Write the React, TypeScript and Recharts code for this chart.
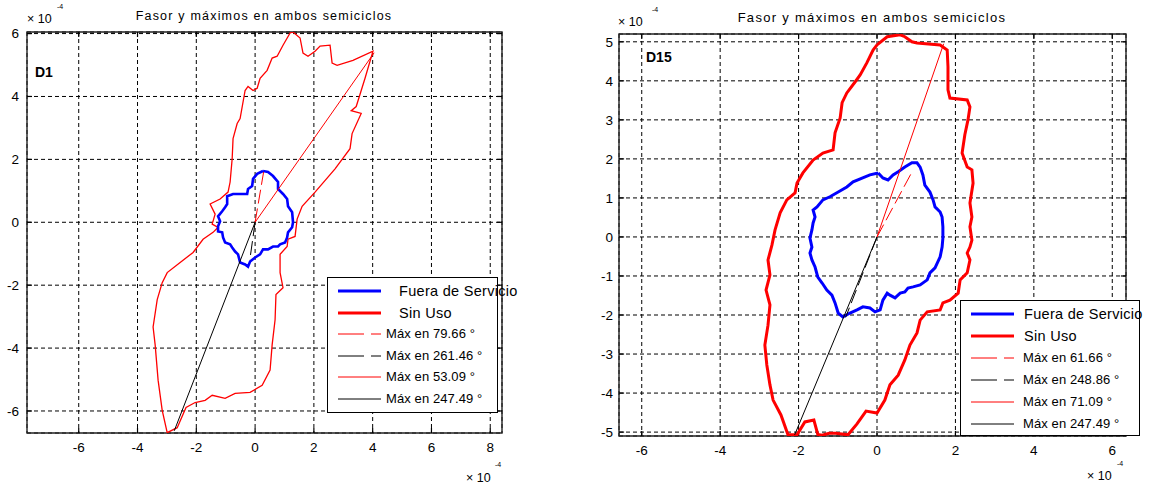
import {
  ScatterChart,
  Scatter,
  XAxis,
  YAxis,
  CartesianGrid,
  ReferenceArea,
  ReferenceLine,
  Legend,
} from "recharts";

// all values are x 10^-4
const d1XTicks = [-6, -4, -2, 0, 2, 4, 6, 8];
const d1YTicks = [-6, -4, -2, 0, 2, 4, 6];
const d15XTicks = [-6, -4, -2, 0, 2, 4, 6];
const d15YTicks = [-5, -4, -3, -2, -1, 0, 1, 2, 3, 4, 5];

const d1XDomain = [-7.76, 8.4];
const d1YDomain = [-6.7, 6.05];
const d15XDomain = [-6.58, 6.35];
const d15YDomain = [-5.1, 5.2];

// D1 - Sin Uso
const d1SinUsoX = [
  1.29, 1.53, 1.63, 1.8, 2.04, 2.21, 2.55, 2.62, 2.79, 3.33, 4.01, 3.74, 3.44, 3.27, 3.61, 3.3, 3.23, 2.72,
  2.04, 1.6, 1.43, 1.36, 1.12, 1.09, 0.85, 0.85, 0.95, 0.71, 0.68, 0.58, 0.51, 0.24, -0.17, -0.68, -1.02,
  -1.46, -1.7, -2.04, -2.35, -2.65, -2.99, -3.16, -3.3, -3.4, -3.47, -3.33, -3.16, -2.99, -2.55, -2.11,
  -1.77, -1.43, -1.26, -1.46, -1.36, -1.53, -1.19, -0.92, -0.85, -0.78, -0.75, -0.61, -0.51, -0.34, -0.24,
  -0.07, 0.07, 0.17, 0.41, 0.58, 0.75, 0.95, 1.19,
];
const d1SinUsoY = [
  6.05, 5.86, 5.38, 5.28, 5.44, 5.6, 5.63, 5.06, 4.99, 5.15, 5.44, 4.58, 3.68, 3.55, 3.46, 2.82, 2.34, 1.7,
  0.96, 0.51, 0.1, -0.45, -0.54, -0.77, -1.02, -1.6, -2.08, -2.3, -3.1, -3.9, -4.7, -5.18, -5.41, -5.44,
  -5.6, -5.5, -5.66, -5.73, -5.89, -6.53, -6.69, -5.98, -5.02, -3.9, -3.33, -2.46, -1.92, -1.6, -1.28,
  -0.96, -0.54, -0.32, -0.16, -0.06, 0.26, 0.58, 0.74, 0.96, 1.28, 2.02, 2.66, 3.14, 3.3, 4.19, 4.32, 4.19,
  4.26, 4.58, 4.83, 5.22, 5.28, 5.63, 6.02,
];

// D1 - Fuera de Servicio
const d1FueraX = [
  0.27, 0.44, 0.61, 0.78, 0.78, 0.95, 1.09, 1.12, 1.26, 1.29, 1.26, 1.12, 1.09, 1.02, 0.85, 0.78, 0.61,
  0.44, 0.27, 0.17, 0.0, -0.17, -0.24, -0.34, -0.51, -0.58, -0.68, -0.78, -0.85, -1.02, -1.09, -1.12,
  -1.26, -1.26, -1.19, -1.26, -1.12, -1.02, -0.95, -0.95, -0.75, -0.27, -0.24, -0.1, -0.07, 0.07,
];
const d1FueraY = [
  1.63, 1.6, 1.47, 1.28, 1.06, 0.9, 0.74, 0.51, 0.32, 0.0, -0.16, -0.32, -0.48, -0.64, -0.7, -0.77, -0.77,
  -0.86, -0.86, -1.02, -1.12, -1.25, -1.41, -1.34, -1.28, -1.02, -0.93, -0.8, -0.7, -0.64, -0.48, -0.32,
  -0.29, -0.13, 0.03, 0.19, 0.35, 0.48, 0.58, 0.83, 0.9, 0.9, 1.06, 1.15, 1.38, 1.54,
];

// D1 - máximos (tips of the rays from the origin)
const d1MaxX = [0.29, -0.18, 4.05, -2.75];
const d1MaxY = [1.6, -1.2, 5.39, -6.63];
const d1MaxLabels = ["Máx en 79.66 °", "Máx en 261.46 °", "Máx en 53.09 °", "Máx en 247.49 °"];

// D15 - Sin Uso
const d15SinUsoX = [
  0.0, 0.26, 0.59, 0.71, 0.89, 1.02, 1.61, 1.79, 1.81, 1.81, 1.86, 2.3, 2.37, 2.32, 2.24, 2.17, 2.3, 2.42,
  2.45, 2.37, 2.42, 2.37, 2.42, 2.37, 2.3, 2.37, 2.3, 2.12, 2.07, 1.86, 1.68, 1.61, 1.28, 1.1, 1.02, 0.84,
  0.71, 0.54, 0.33, 0.2, 0.0, -0.28, -0.51, -0.74, -1.05, -1.22, -1.4, -1.51, -1.61, -1.84, -2.04, -2.27,
  -2.45, -2.65, -2.73, -2.81, -2.86, -2.78, -2.73, -2.83, -2.73, -2.78, -2.68, -2.6, -2.47, -2.3, -2.09,
  -2.04, -1.89, -1.63, -1.38, -1.12, -1.07, -0.94, -0.89, -0.77, -0.56, -0.43, -0.26, -0.1,
];
const d15SinUsoY = [
  4.92, 5.13, 5.18, 5.13, 5.0, 4.97, 4.92, 4.79, 4.36, 3.77, 3.56, 3.51, 3.33, 3.0, 2.62, 2.15, 1.79, 1.72,
  1.38, 0.87, 0.51, 0.26, -0.08, -0.26, -0.41, -0.59, -0.92, -1.1, -1.44, -1.62, -1.69, -1.87, -1.92,
  -2.13, -2.46, -2.77, -3.15, -3.54, -3.79, -4.18, -4.51, -4.46, -4.79, -5.07, -5.03, -5.03, -5.08, -5.06,
  -4.69, -4.74, -5.07, -5.07, -4.56, -4.18, -3.79, -3.28, -2.77, -2.26, -1.74, -1.36, -0.97, -0.59, -0.21,
  0.18, 0.62, 0.95, 1.13, 1.38, 1.64, 1.97, 2.15, 2.23, 2.67, 3.05, 3.44, 3.69, 3.97, 4.15, 4.46, 4.79,
];

// D15 - Fuera de Servicio
const d15FueraX = [
  0.03, 0.15, 0.28, 0.41, 0.54, 0.71, 0.89, 1.02, 1.1, 1.17, 1.22, 1.35, 1.43, 1.48, 1.61, 1.66, 1.68,
  1.68, 1.66, 1.61, 1.48, 1.35, 1.28, 1.1, 0.92, 0.79, 0.71, 0.59, 0.46, 0.33, 0.26, 0.15, 0.08, -0.05,
  -0.18, -0.36, -0.51, -0.69, -0.87, -0.99, -1.07, -1.15, -1.28, -1.4, -1.51, -1.58, -1.66, -1.71, -1.66,
  -1.71, -1.66, -1.63, -1.58, -1.63, -1.53, -1.38, -1.2, -0.99, -0.77, -0.61, -0.38, -0.18,
];
const d15FueraY = [
  1.64, 1.51, 1.46, 1.59, 1.67, 1.79, 1.9, 1.9, 1.79, 1.59, 1.33, 1.15, 0.95, 0.77, 0.64, 0.51, 0.26, -0.03,
  -0.26, -0.51, -0.79, -0.92, -1.1, -1.23, -1.28, -1.31, -1.41, -1.44, -1.56, -1.49, -1.44, -1.62, -1.87,
  -1.92, -1.82, -1.79, -1.87, -1.95, -2.05, -1.95, -1.69, -1.49, -1.36, -1.18, -1.03, -0.77, -0.59, -0.41,
  -0.26, -0.03, 0.18, 0.36, 0.51, 0.69, 0.77, 0.95, 1.03, 1.15, 1.28, 1.41, 1.51, 1.59,
];

// D15 - máximos
const d15MaxX = [0.9, -0.8, 1.7, -2.1];
const d15MaxY = [1.68, -2.06, 4.95, -5.07];
const d15MaxLabels = ["Máx en 61.66 °", "Máx en 248.86 °", "Máx en 71.09 °", "Máx en 247.49 °"];

const seriesNames = ["Fuera de Servicio", "Sin Uso"];
const title = "Fasor y máximos en ambos semiciclos";

const FONT = '"Liberation Sans", Arial, sans-serif';

type Pt = { x: number; y: number };
const loop = (xs: number[], ys: number[]): Pt[] => {
  const pts = xs.map((x, i) => ({ x, y: ys[i] }));
  return [...pts, pts[0]];
};
const ray = (x: number, y: number): Pt[] => [
  { x: 0, y: 0 },
  { x, y },
];

type Style = { stroke: string; width: number; dash?: string };

const noDot = () => <g />;

function LegendBox({ rows, boxW, boxH, rowTop, rowGap, textLeftBig, textLeftSmall }: any) {
  return (
    <div
      style={{
        position: "relative",
        width: boxW,
        height: boxH,
        border: "1px solid #000",
        background: "#fff",
        boxSizing: "border-box",
        fontFamily: FONT,
      }}
    >
      {rows.map((r: any, i: number) => (
        <div key={i} style={{ position: "absolute", left: 0, top: rowTop + i * rowGap - 10, height: 20, width: boxW }}>
          <svg width={60} height={20} style={{ position: "absolute", left: 0, top: 0 }}>
            <line
              x1={10}
              x2={53}
              y1={10}
              y2={10}
              stroke={r.stroke}
              strokeWidth={r.width}
              strokeDasharray={r.dash ? "26 7" : undefined}
            />
          </svg>
          <span
            style={{
              position: "absolute",
              left: i < 2 ? textLeftBig : textLeftSmall,
              top: 0,
              lineHeight: "20px",
              fontSize: i < 2 ? 14.5 : 13,
              letterSpacing: i < 2 ? 0.3 : 0.1,
              whiteSpace: "nowrap",
              color: "#000",
            }}
          >
            {r.label}
          </span>
        </div>
      ))}
    </div>
  );
}

function Panel(props: any) {
  const {
    left, width, height, margin, xDomain, yDomain, xTicks, yTicks,
    curves, yTickGap, legend, tickLenX, tickLenY,
  } = props;
  const [x0, x1] = xDomain;
  const [y0, y1] = yDomain;
  return (
    <div style={{ position: "absolute", left, top: 0, width, height }}>
      <ScatterChart width={width} height={height} margin={margin} style={{ fontFamily: FONT }}>
        <CartesianGrid stroke="#000" strokeDasharray="4 3" strokeWidth={1} />
        <XAxis
          type="number"
          dataKey="x"
          domain={xDomain}
          ticks={xTicks}
          allowDataOverflow
          axisLine={false}
          tickLine={false}
          tickSize={4}
          tickMargin={5}
          height={30}
          tick={{ fill: "#000", fontSize: 13.5 }}
        />
        <YAxis
          type="number"
          dataKey="y"
          domain={yDomain}
          ticks={yTicks}
          allowDataOverflow
          axisLine={false}
          tickLine={false}
          tickSize={yTickGap}
          tickMargin={3}
          width={20}
          tick={{ fill: "#000", fontSize: 13.5 }}
        />
        {xTicks.map((t: number) => (
          <ReferenceLine key={`xb${t}`} segment={[{ x: t, y: y0 }, { x: t, y: y0 + tickLenY }]} stroke="#000" strokeWidth={1.2} />
        ))}
        {xTicks.map((t: number) => (
          <ReferenceLine key={`xt${t}`} segment={[{ x: t, y: y1 }, { x: t, y: y1 - tickLenY }]} stroke="#000" strokeWidth={1.2} />
        ))}
        {yTicks.map((t: number) => (
          <ReferenceLine key={`yl${t}`} segment={[{ x: x0, y: t }, { x: x0 + tickLenX, y: t }]} stroke="#000" strokeWidth={1.2} />
        ))}
        {yTicks.map((t: number) => (
          <ReferenceLine key={`yr${t}`} segment={[{ x: x1, y: t }, { x: x1 - tickLenX, y: t }]} stroke="#000" strokeWidth={1.2} />
        ))}
        {curves.map((c: { data: Pt[]; style: Style }, i: number) => (
          <Scatter
            key={i}
            data={c.data}
            line={{ stroke: c.style.stroke, strokeWidth: c.style.width, strokeDasharray: c.style.dash }}
            shape={noDot}
            legendType="none"
            isAnimationActive={false}
          />
        ))}
        <ReferenceArea
          x1={x0}
          x2={x1}
          y1={y0}
          y2={y1}
          fill="none"
          fillOpacity={0}
          stroke="#222"
          strokeWidth={1.4}
          ifOverflow="visible"
        />
        <Legend
          layout="vertical"
          align="center"
          verticalAlign="middle"
          wrapperStyle={{ left: legend.left, top: legend.top, width: legend.boxW, height: legend.boxH }}
          content={() => <LegendBox {...legend} />}
        />
      </ScatterChart>
    </div>
  );
}

const sinUsoD1: Style = { stroke: "#ff0000", width: 1.3 };
const fueraD1: Style = { stroke: "#0000ff", width: 2.6 };
const sinUsoD15: Style = { stroke: "#ff0000", width: 3 };
const fueraD15: Style = { stroke: "#0000ff", width: 3 };
const rayStyles: Style[] = [
  { stroke: "#ff0000", width: 1, dash: "14 5" },
  { stroke: "#000", width: 1, dash: "14 5" },
  { stroke: "#ff0000", width: 1 },
  { stroke: "#000", width: 1 },
];

const legendRows = (labels: string[]) => [
  { label: seriesNames[0], stroke: "#0000ff", width: 3 },
  { label: seriesNames[1], stroke: "#ff0000", width: 3 },
  ...labels.map((l, i) => ({ label: l, stroke: rayStyles[i].stroke, width: 1, dash: !!rayStyles[i].dash })),
];

const txt = (s: any) => ({ position: "absolute" as const, fontFamily: FONT, color: "#000", whiteSpace: "nowrap" as const, ...s });

export default function App() {
  const d1Curves = [
    { data: loop(d1SinUsoX, d1SinUsoY), style: sinUsoD1 },
    { data: loop(d1FueraX, d1FueraY), style: fueraD1 },
    ...d1MaxX.map((x, i) => ({ data: ray(x, d1MaxY[i]), style: rayStyles[i] })),
  ];
  const d15Curves = [
    { data: loop(d15SinUsoX, d15SinUsoY), style: sinUsoD15 },
    { data: loop(d15FueraX, d15FueraY), style: fueraD15 },
    ...d15MaxX.map((x, i) => ({ data: ray(x, d15MaxY[i]), style: rayStyles[i] })),
  ];
  return (
    <div style={{ position: "absolute", left: 0, top: 0, width: 1163, height: 486, background: "#fff", overflow: "hidden" }}>
      <Panel
        left={0}
        width={560}
        height={486}
        margin={{ top: 32, right: 58, bottom: 23, left: 7 }}
        xDomain={d1XDomain}
        yDomain={d1YDomain}
        xTicks={d1XTicks}
        yTicks={d1YTicks}
        yTickGap={5}
        tickLenX={0.17}
        tickLenY={0.16}
        curves={d1Curves}
        legend={{
          left: 327, top: 277, boxW: 171, boxH: 136, rowTop: 13, rowGap: 21.6,
          textLeftBig: 71, textLeftSmall: 58, rows: legendRows(d1MaxLabels),
        }}
      />
      <Panel
        left={580}
        width={583}
        height={486}
        margin={{ top: 34, right: 37, bottom: 20, left: 19 }}
        xDomain={d15XDomain}
        yDomain={d15YDomain}
        xTicks={d15XTicks}
        yTicks={d15YTicks}
        yTickGap={3}
        tickLenX={0.13}
        tickLenY={0.13}
        curves={d15Curves}
        legend={{
          left: 380, top: 300, boxW: 180, boxH: 136, rowTop: 13, rowGap: 22,
          textLeftBig: 63, textLeftSmall: 62, rows: legendRows(d15MaxLabels),
        }}
      />

      <div style={txt({ left: 264, top: 9, transform: "translateX(-50%)", fontSize: 12.5, letterSpacing: 1.2 })}>{title}</div>
      <div style={txt({ left: 872, top: 10, transform: "translateX(-50%)", fontSize: 13, letterSpacing: 1.3 })}>{title}</div>

      <div style={txt({ left: 27, top: 12, fontSize: 12.5 })}>× 10</div>
      <div style={txt({ left: 57, top: 3, fontSize: 7 })}>-4</div>
      <div style={txt({ left: 618, top: 15, fontSize: 12.5 })}>× 10</div>
      <div style={txt({ left: 652, top: 6, fontSize: 7 })}>-4</div>
      <div style={txt({ left: 466, top: 471, fontSize: 12.5 })}>× 10</div>
      <div style={txt({ left: 495, top: 461, fontSize: 7 })}>-4</div>
      <div style={txt({ left: 1087, top: 469, fontSize: 12.5 })}>× 10</div>
      <div style={txt({ left: 1117, top: 460, fontSize: 7 })}>-4</div>

      <div style={txt({ left: 35, top: 64, fontSize: 14, fontWeight: "bold" })}>D1</div>
      <div style={txt({ left: 646, top: 49, fontSize: 14, fontWeight: "bold" })}>D15</div>
    </div>
  );
}
